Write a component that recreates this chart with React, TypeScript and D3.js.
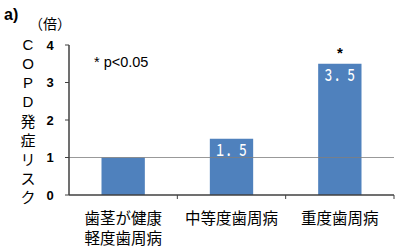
import React from "react";
import * as d3 from "d3";

const categories = ["cat0", "cat1", "cat2"];
const categoryLines = [["歯茎が健康", "軽度歯周病"], ["中等度歯周病"], ["重度歯周病"]];
const values = [1, 1.5, 3.5];
const valueLabels = ["", "１．５", "３．５"];
const stars = [false, false, true];
const yTicks = [0, 1, 2, 3, 4];
const yLabelChars = ["C", "O", "P", "D", "発", "症", "リ", "ス", "ク"];

const W = 400, H = 249;
const left = 69, right = 394, top = 45, bottom = 195;

export default function App() {
  const x = d3.scaleBand().domain(categories).range([left, right]).paddingInner(0.6).paddingOuter(0.3);
  const xOuter = d3.scaleBand().domain(categories).range([left, right]);
  const y = d3.scaleLinear().domain([0, 4]).range([bottom, top]);
  const font = "'Liberation Sans', Arial, 'Noto Sans CJK JP', sans-serif";
  const jp = "'Noto Sans CJK JP', sans-serif";
  const axisColor = "#404040";
  return (
    <svg width={W} height={H} style={{ position: "absolute", left: 0, top: 0, background: "#fff" }} fontFamily={font}>
      <text x={4} y={20} fontSize={16} fontWeight="bold" fill="#000">a)</text>
      <text x={29} y={29} fontSize={14} fill="#000" fontFamily={jp}>（倍）</text>
      {yLabelChars.map((c, i) => (
        <text key={i} x={28} y={44 + i * 19.1} fontSize={15} textAnchor="middle" dominantBaseline="central" fill="#000" fontFamily={i < 4 ? font : jp}>{c}</text>
      ))}
      {yTicks.map((t) => (
        <g key={t}>
          <line x1={left - 4} x2={left} y1={y(t)} y2={y(t)} stroke={axisColor} strokeWidth={1} />
          <text x={50} y={y(t)} fontSize={13} fontWeight="bold" textAnchor="middle" dominantBaseline="central" fill="#000">{t}</text>
        </g>
      ))}
      <text x={94} y={67} fontSize={14.5} fill="#000">* p&lt;0.05</text>
      {categories.map((c, i) => (
        <rect key={c} x={x(c)} y={y(values[i])} width={x.bandwidth()} height={y(0) - y(values[i])} fill="#4F81BD" />
      ))}
      <line x1={left} x2={right} y1={y(1)} y2={y(1)} stroke="#7f7f7f" strokeWidth={0.8} />
      {categories.map((c, i) => (
        <g key={c + "l"}>
          {valueLabels[i] && (
            <text x={x(c)! + x.bandwidth() / 2} y={y(values[i]) + 10} fontSize={15.5} fontWeight={500} fill="#fff" textAnchor="middle" dominantBaseline="central" fontFamily={jp} textLength={34} lengthAdjust="spacingAndGlyphs">{valueLabels[i]}</text>
          )}
          {stars[i] && (
            <text x={x(c)! + x.bandwidth() / 2} y={y(values[i]) - 11} fontSize={15} fontWeight="bold" fill="#000" textAnchor="middle" dominantBaseline="central">*</text>
          )}
          {categoryLines[i].map((line, j) => (
            <text key={j} x={xOuter(c)! + xOuter.bandwidth() / 2} y={217 + j * 20} fontSize={15.5} fill="#000" textAnchor="middle" dominantBaseline="central" fontFamily={jp}>{line}</text>
          ))}
        </g>
      ))}
      <line x1={left} x2={left} y1={top} y2={bottom} stroke={axisColor} strokeWidth={1.5} />
      <line x1={left} x2={right} y1={bottom} y2={bottom} stroke={axisColor} strokeWidth={1.5} />
      {categories.map((c) => (
        <line key={c + "t"} x1={xOuter(c)! + xOuter.bandwidth()} x2={xOuter(c)! + xOuter.bandwidth()} y1={bottom} y2={bottom + 4} stroke={axisColor} strokeWidth={1} />
      ))}
    </svg>
  );
}
